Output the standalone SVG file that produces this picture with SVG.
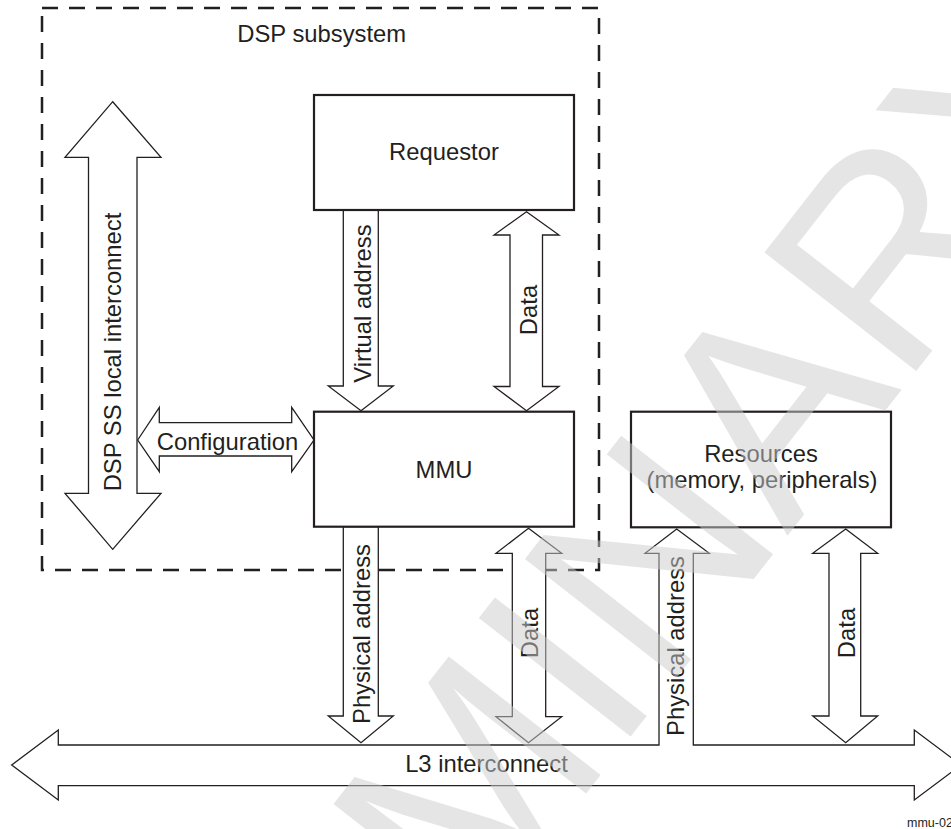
<svg xmlns="http://www.w3.org/2000/svg" width="951" height="829" viewBox="0 0 951 829">
  <style>
    .t { font-family: "Liberation Sans", Arial, sans-serif; font-size: 23.8px; fill: #231f20; }
    .c { text-anchor: middle; }
    .arrow { fill: #ffffff; stroke: #231f20; stroke-width: 1.3; stroke-linejoin: miter; }
    .box { fill: #ffffff; stroke: #231f20; stroke-width: 2.2; }
    .wm { font-family: "Liberation Sans", Arial, sans-serif; font-size: 280px; fill: #cccccc; fill-opacity: 0.5; }
  </style>

  <g id="dsp-subsystem">
    <rect x="42" y="8" width="557" height="562" fill="none" stroke="#231f20" stroke-width="2.5" stroke-dasharray="16 11"/>
    <text class="t" x="237.3" y="42.3">DSP subsystem</text>
  </g>

  <g id="connectors">
    <g id="dsp-local-interconnect">
      <polygon class="arrow" points="112.7,101.7 161,157.3 137,157.3 137,493.3 161,493.3 112.7,549.3 65,493.3 88.5,493.3 88.5,157.3 65,157.3"/>
      <text class="t c" transform="translate(112,352) rotate(-90)" x="0" y="8.5">DSP SS local interconnect</text>
    </g>
    <g id="configuration">
      <polygon class="arrow" points="137.7,440 159.3,407.3 159.3,422.7 291.7,422.7 291.7,407.3 314,440 291.7,471.7 291.7,456 159.3,456 159.3,471.7"/>
      <text class="t c" x="227.5" y="450">Configuration</text>
    </g>
    <g id="virtual-address">
      <polygon class="arrow" points="343.3,210 378.3,210 378.3,386 393.3,386 361,410.7 328.3,386 343.3,386"/>
      <text class="t c" transform="translate(362,303.5) rotate(-90)" x="0" y="8.5">Virtual address</text>
    </g>
    <g id="data-req-mmu">
      <polygon class="arrow" points="526.5,211.7 559,235 542.5,235 542.5,386.5 559,386.5 526.5,410.7 494,386.5 510,386.5 510,235 494,235"/>
      <text class="t c" transform="translate(528,310) rotate(-90)" x="0" y="8.5">Data</text>
    </g>
    <g id="physical-address-mmu">
      <polygon class="arrow" points="343.3,526.7 378.3,526.7 378.3,716 393.3,716 361,742.7 328.3,716 343.3,716"/>
      <text class="t c" transform="translate(361.5,634) rotate(-90)" x="0" y="8.5">Physical address</text>
    </g>
    <g id="data-mmu-l3">
      <polygon class="arrow" points="528.5,528.3 561.7,553.3 545.7,553.3 545.7,716.7 561.7,716.7 528.5,742.7 496,716.7 512.3,716.7 512.3,553.3 496,553.3"/>
      <text class="t c" transform="translate(529,633) rotate(-90)" x="0" y="8.5">Data</text>
    </g>
    <g id="data-res-l3">
      <polygon class="arrow" points="845.7,529 877.7,553.3 860.7,553.3 860.7,716 877.7,716 845.7,742.7 812.7,716 829,716 829,553.3 812.7,553.3"/>
      <text class="t c" transform="translate(846.5,633) rotate(-90)" x="0" y="8.5">Data</text>
    </g>
  </g>

  <g id="l3-interconnect">
    <polygon class="arrow" stroke-width="1.5" points="11.7,765 58.3,730 58.3,745 659,745 659,553.3 645,553.3 676.7,529 709.3,553.3 693.3,553.3 693.3,745 914.3,745 914.3,730 961,765 914.3,800 914.3,785.7 58.3,785.7 58.3,800"/>
    <text class="t c" x="486.5" y="771.7">L3 interconnect</text>
    <text class="t c" transform="translate(675,646) rotate(-90)" x="0" y="8.5">Physical address</text>
  </g>

  <g id="requestor">
    <rect class="box" x="314" y="95" width="260" height="115"/>
    <text class="t c" x="444" y="159.5">Requestor</text>
  </g>

  <g id="mmu">
    <rect class="box" x="314" y="411.7" width="260" height="115"/>
    <text class="t c" x="444" y="478.3">MMU</text>
  </g>

  <g id="resources">
    <rect class="box" x="631" y="411.7" width="260" height="115.6" stroke-width="3.2"/>
    <text class="t c" x="761" y="461.7">Resources</text>
    <text class="t c" x="762" y="488">(memory, peripherals)</text>
  </g>

  <text class="t" x="907" y="826.7" style="font-size:12.5px">mmu-02</text>

  <text class="wm" transform="translate(-27.1,1578.4) rotate(-52)" x="0" y="0">PRELIMINARY</text>
</svg>
